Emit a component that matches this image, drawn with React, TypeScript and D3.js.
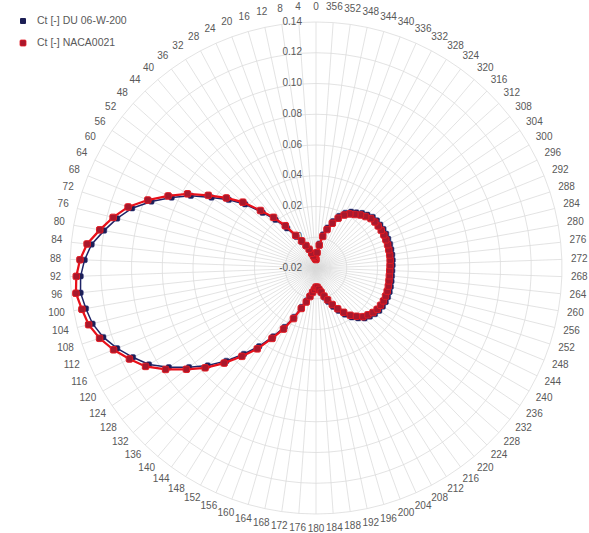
import React from "react";
import * as d3 from "d3";

const categories: number[] = d3.range(0, 360, 4);
const radialTicks: number[] = [-0.02, 0, 0.02, 0.04, 0.06, 0.08, 0.1, 0.12, 0.14];
const radialTickLabels: string[] = ["-0.02", "0", "0.02", "0.04", "0.06", "0.08", "0.10", "0.12", "0.14"];
const seriesNames: string[] = ["Ct [-] DU 06-W-200", "Ct [-] NACA0021"];

const ctDU: number[] = [
  -0.0145, -0.014, -0.0132, -0.0122, -0.0103, -0.0075, -0.0045, -0.0008, 0.004, 0.012,
  0.021, 0.03, 0.042, 0.052, 0.062, 0.074, 0.0845, 0.0955, 0.1058, 0.1133,
  0.12, 0.1268, 0.1306, 0.1332, 0.134, 0.132, 0.1298, 0.1255, 0.1195, 0.1125,
  0.1055, 0.0955, 0.0848, 0.0748, 0.064, 0.053, 0.043, 0.0325, 0.0235, 0.0148,
  0.007, 0.002, -0.0017, -0.0045, -0.0063, -0.0076, -0.0073, -0.0055, -0.0033, 0.0,
  0.0033, 0.0075, 0.0115, 0.0156, 0.0196, 0.0226, 0.0255, 0.0271, 0.0286, 0.0296,
  0.0301, 0.0304, 0.0304, 0.0303, 0.0301, 0.0298, 0.0296, 0.0296, 0.0298, 0.0301,
  0.0303, 0.0304, 0.0306, 0.0306, 0.0307, 0.0306, 0.0304, 0.0302, 0.0296, 0.0281,
  0.0266, 0.0246, 0.0231, 0.0206, 0.017, 0.0124, 0.0073, 0.0022, -0.004, -0.0095,
];

const ctNACA: number[] = [
  -0.0145, -0.014, -0.013, -0.012, -0.01, -0.007, -0.004, 0.0, 0.005, 0.014,
  0.023, 0.032, 0.044, 0.054, 0.0645, 0.0765, 0.087, 0.098, 0.1085, 0.116,
  0.1228, 0.1297, 0.1336, 0.136, 0.137, 0.1346, 0.1324, 0.128, 0.122, 0.115,
  0.108, 0.098, 0.087, 0.077, 0.066, 0.055, 0.045, 0.034, 0.025, 0.016,
  0.008, 0.003, -0.001, -0.004, -0.006, -0.0076, -0.0075, -0.006, -0.004, -0.001,
  0.002, 0.006, 0.01, 0.014, 0.018, 0.021, 0.024, 0.0255, 0.027, 0.028,
  0.0285, 0.0288, 0.0288, 0.0287, 0.0285, 0.0282, 0.028, 0.028, 0.0282, 0.0285,
  0.0287, 0.0288, 0.029, 0.029, 0.0291, 0.029, 0.0288, 0.0286, 0.028, 0.0265,
  0.025, 0.023, 0.0215, 0.019, 0.0155, 0.011, 0.006, 0.001, -0.005, -0.01,
];

const W = 589;
const H = 533;
const cx = 316;
const cy = 268;
const R = 246;
const FONT = "'Liberation Sans', Arial, sans-serif";
const TEXT = "#595959";
const GRID = "#d9d9d9";

export default function App() {
  const r = d3.scaleLinear().domain([-0.02, 0.14]).range([0, R]);
  const ang = (deg: number) => (-deg * Math.PI) / 180;
  const px = (deg: number, rad: number) => cx - rad * Math.sin((deg * Math.PI) / 180);
  const py = (deg: number, rad: number) => cy - rad * Math.cos((deg * Math.PI) / 180);

  const ring = d3
    .lineRadial<number>()
    .angle((d) => ang(d))
    .curve(d3.curveLinearClosed);

  const seriesLine = d3
    .lineRadial<[number, number]>()
    .angle((d) => ang(d[0]))
    .radius((d) => r(d[1]))
    .curve(d3.curveLinearClosed);

  const du: [number, number][] = categories.map((c, i) => [c, ctDU[i]]);
  const naca: [number, number][] = categories.map((c, i) => [c, ctNACA[i]]);

  return (
    <svg
      width={W}
      height={H}
      style={{ position: "absolute", left: 0, top: 0, background: "#fff" }}
      fontFamily={FONT}
    >
      <g transform={`translate(${cx},${cy})`}>
        {radialTicks.slice(1).map((t) => (
          <path
            key={"ring" + t}
            d={ring.radius(() => r(t))(categories) || ""}
            fill="none"
            stroke={GRID}
            strokeWidth={0.75}
          />
        ))}
        {categories.map((c) => (
          <line
            key={"sp" + c}
            x1={0}
            y1={0}
            x2={px(c, R) - cx}
            y2={py(c, R) - cy}
            stroke={GRID}
            strokeWidth={0.75}
          />
        ))}
      </g>
      {radialTicks.map((t, i) => (
        <text
          key={"rt" + t}
          x={cx - 14}
          y={cy - r(t)}
          textAnchor="end"
          dominantBaseline="middle"
          fontSize={10}
          fill={TEXT}
        >
          {radialTickLabels[i]}
        </text>
      ))}
      {categories.map((c) => {
        const s = Math.sin((c * Math.PI) / 180);
        const co = Math.cos((c * Math.PI) / 180);
        const label = String(c);
        const w = label.length * 5.6;
        const rad = R + 9;
        const x = px(c, rad) + -s * (w / 2);
        const y = py(c, rad) - co * 6;
        return (
          <text
            key={"al" + c}
            x={x}
            y={y}
            textAnchor="middle"
            dominantBaseline="middle"
            fontSize={10}
            fill={TEXT}
          >
            {label}
          </text>
        );
      })}
      <g transform={`translate(${cx},${cy})`}>
        <path d={seriesLine(du) || ""} fill="none" stroke="#1f2466" strokeWidth={1.5} />
        {du.map((d) => (
          <rect
            key={"dm" + d[0]}
            x={px(d[0], r(d[1])) - cx - 2.75}
            y={py(d[0], r(d[1])) - cy - 2.75}
            width={5.5}
            height={5.5}
            rx={1.5}
            fill="#1c1f55"
            stroke="#2a2f7a"
            strokeWidth={0.5}
          />
        ))}
        <path d={seriesLine(naca) || ""} fill="none" stroke="#e8101a" strokeWidth={2.25} />
        {naca.map((d) => (
          <rect
            key={"nm" + d[0]}
            x={px(d[0], r(d[1])) - cx - 3.25}
            y={py(d[0], r(d[1])) - cy - 3.25}
            width={6.5}
            height={6.5}
            rx={1.5}
            fill="#a8182c"
            stroke="#e31b23"
            strokeWidth={1}
          />
        ))}
      </g>
      <g>
        <rect x={20} y={18} width={6} height={6} rx={1} fill="#1c1f55" />
        <text x={37} y={21} dominantBaseline="middle" fontSize={10.5} fill={TEXT}>
          {seriesNames[0]}
        </text>
        <rect x={20} y={40} width={6} height={6} rx={1} fill="#a8182c" stroke="#e31b23" strokeWidth={0.8} />
        <text x={37} y={43} dominantBaseline="middle" fontSize={10.5} fill={TEXT}>
          {seriesNames[1]}
        </text>
      </g>
    </svg>
  );
}
